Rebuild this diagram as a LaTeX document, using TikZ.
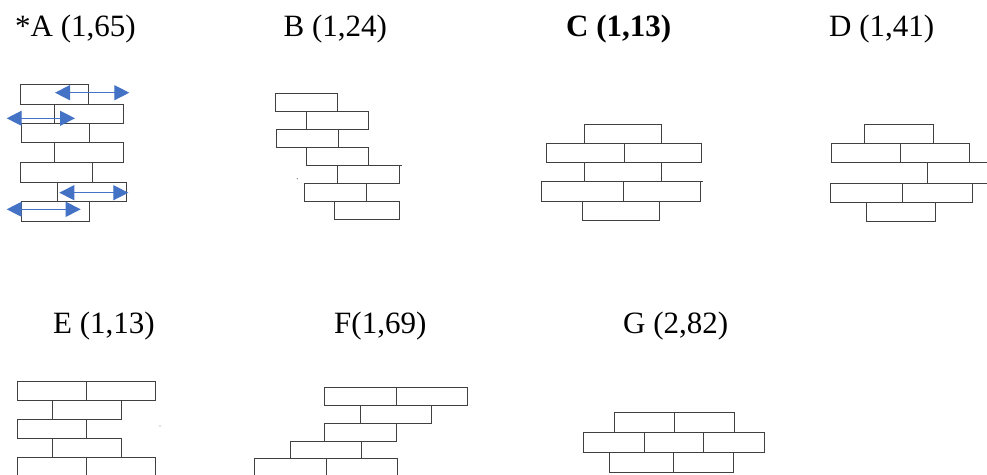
\documentclass[tikz,border=0pt]{standalone}
\usepackage{fontspec}
\setmainfont{Liberation Serif}
\usetikzlibrary{arrows.meta}
\definecolor{arrowblue}{HTML}{4472C4}
\definecolor{brickline}{HTML}{404040}
\tikzset{
  brick/.style={draw=brickline, line width=1pt},
  dblarrow/.style={draw=arrowblue, line width=1.3pt,
    {Triangle[length=15pt,width=15pt]}-{Triangle[length=15pt,width=15pt]}},
  title/.style={anchor=base west, inner sep=0pt, font=\fontsize{31}{36}\selectfont},
  speck/.style={fill=gray, draw=none}
}
\begin{document}
\begin{tikzpicture}[x=1pt,y=-1pt]
\clip (0,0) rectangle (987,474);
\fill[white] (0,0) rectangle (987,474);

% titles
\node[title] (tA) at (15,36) {*A (1,65)};
\node[title] (tB) at (283.5,36) {B (1,24)};
\node[title] (tC) at (566,36) {\bfseries C (1,13)};
\node[title] (tD) at (829,36) {D (1,41)};
\node[title] (tE) at (53,333) {E (1,13)};
\node[title] (tF) at (334,333) {F(1,69)};
\node[title] (tG) at (623,333) {G (2,82)};

% ---------- A ----------
\draw[brick] (20,84.3) rectangle (88.7,104);
\draw[brick] (54.3,104) rectangle (123.3,123.3);
\draw[brick] (21,123.3) rectangle (89.3,142.7);
\draw[brick] (54.3,142.7) rectangle (123,162.3);
\draw[brick] (20,162.3) rectangle (92.5,182);
\draw[brick] (57.7,182) rectangle (126.7,201.3);
\draw[brick] (21,201.3) rectangle (89.7,221);
\coordinate (a1l) at (55,92.7);   \coordinate (a1r) at (129.3,92.7);
\coordinate (a2l) at (6.7,118.3);  \coordinate (a2r) at (75,118.3);
\coordinate (a3l) at (59.3,192.7); \coordinate (a3r) at (128.3,192.7);
\coordinate (a4l) at (6.7,209.3);  \coordinate (a4r) at (80.7,209.3);
\draw[dblarrow] (a1l) -- (a1r);
\draw[dblarrow] (a2l) -- (a2r);
\draw[dblarrow] (a3l) -- (a3r);
\draw[dblarrow] (a4l) -- (a4r);

% ---------- B ----------
\draw[brick] (275,93.3) rectangle (337.7,111.7);
\draw[brick] (306,111.7) rectangle (368.3,129.3);
\draw[brick] (276,129.3) rectangle (338.3,147.3);
\draw[brick] (306,147.3) rectangle (368.3,165.3);
\draw[brick] (337.3,165.3) rectangle (399.3,183.3);
\draw[brick] (399.3,165.3) -- (401.7,165.3);
\draw[brick] (304.3,183.3) rectangle (366.7,201.3);
\draw[brick] (334.3,201.3) rectangle (399.3,219.3);
\fill[speck] (297.3,178.7) circle (0.7);

% ---------- C ----------
\draw[brick] (584.3,124) rectangle (661.7,143.3);
\draw[brick] (546.7,143.3) rectangle (624,162.7);
\draw[brick] (624,143.3) rectangle (701.7,162.7);
\draw[brick] (584.3,162.7) rectangle (661.7,181.7);
\draw[brick] (541.7,181.7) rectangle (623.3,201);
\draw[brick] (623.3,181.7) rectangle (700.7,201);
\draw[brick] (700.7,181.7) -- (703.3,181.7);
\draw[brick] (582.3,201) rectangle (659.3,220.7);

% ---------- D ----------
\draw[brick] (864.3,124.3) rectangle (933.7,143.3);
\draw[brick] (831,143.3) rectangle (900,162.3);
\draw[brick] (900,143.3) rectangle (969,162.3);
\draw[brick] (990,162.3) -- (927.3,162.3) -- (927.3,183.3) -- (990,183.3);
\draw[brick] (830,183.3) rectangle (902.7,202.7);
\draw[brick] (902.7,183.3) rectangle (972,202.7);
\draw[brick] (866,202.7) rectangle (935.3,221.7);

% ---------- E ----------
\draw[brick] (17.7,381.7) rectangle (86.7,400.7);
\draw[brick] (86.7,381.7) rectangle (155.7,400.7);
\draw[brick] (52.3,400.7) rectangle (121.3,419.3);
\draw[brick] (17.7,419.3) rectangle (86.7,438.3);
\draw[brick] (52.3,438.3) rectangle (121.3,457.3);
\draw[brick] (17.7,457.3) rectangle (86.7,480);
\draw[brick] (86.7,457.3) rectangle (155.7,480);
\fill[speck] (160,426) circle (0.7);

% ---------- F ----------
\draw[brick] (324.3,387.3) rectangle (396,405);
\draw[brick] (396,387.3) rectangle (467.3,405);
\draw[brick] (360,405) rectangle (431.7,423.3);
\draw[brick] (324.3,423.3) rectangle (396.7,441);
\draw[brick] (290,441) rectangle (361.7,458.3);
\draw[brick] (254,458.3) rectangle (326,480);
\draw[brick] (326,458.3) rectangle (397.3,480);

% ---------- G ----------
\draw[brick] (614,412.3) rectangle (674.3,432.3);
\draw[brick] (674.3,412.3) rectangle (734.3,432.3);
\draw[brick] (583.3,432.3) rectangle (644,452.3);
\draw[brick] (644,432.3) rectangle (703.7,452.3);
\draw[brick] (703.7,432.3) rectangle (764.3,452.3);
\draw[brick] (609.3,452.3) rectangle (673.3,472.3);
\draw[brick] (673.3,452.3) rectangle (733.3,472.3);
\end{tikzpicture}
\end{document}
